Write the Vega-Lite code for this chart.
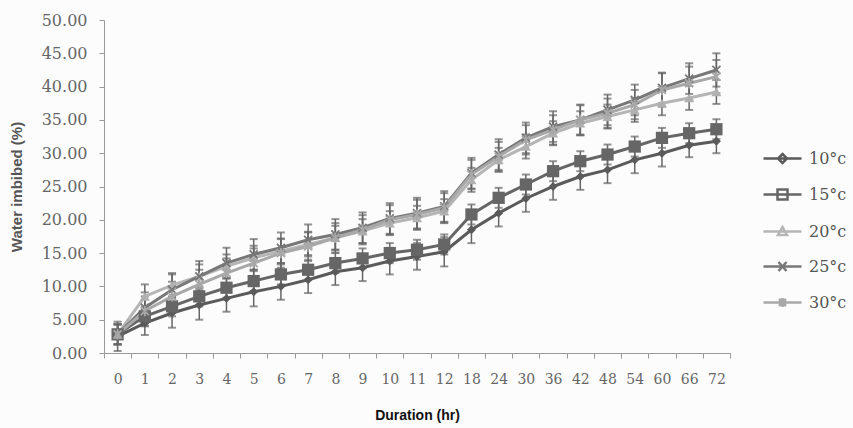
{
  "$schema": "https://vega.github.io/schema/vega-lite/v6.json",
  "width": 626,
  "height": 333,
  "autosize": "none",
  "padding": {"left": 104, "top": 20, "right": 123, "bottom": 75},
  "background": "#fcfcfc",
  "config": {"view": {"stroke": null}},
  "data": {"values": [
    {"s":"10°c","h":0,"v":2.5,"e":2.2},{"s":"10°c","h":1,"v":4.5,"e":1.8},{"s":"10°c","h":2,"v":6.0,"e":2.2},{"s":"10°c","h":3,"v":7.2,"e":2.2},{"s":"10°c","h":4,"v":8.2,"e":2.0},{"s":"10°c","h":5,"v":9.2,"e":2.2},{"s":"10°c","h":6,"v":10.0,"e":2.0},{"s":"10°c","h":7,"v":11.0,"e":2.0},{"s":"10°c","h":8,"v":12.2,"e":2.0},{"s":"10°c","h":9,"v":12.8,"e":2.0},{"s":"10°c","h":10,"v":13.8,"e":2.0},{"s":"10°c","h":11,"v":14.5,"e":2.0},{"s":"10°c","h":12,"v":15.2,"e":2.2},{"s":"10°c","h":18,"v":18.5,"e":2.0},{"s":"10°c","h":24,"v":21.0,"e":2.0},{"s":"10°c","h":30,"v":23.2,"e":2.0},{"s":"10°c","h":36,"v":25.0,"e":2.0},{"s":"10°c","h":42,"v":26.5,"e":2.0},{"s":"10°c","h":48,"v":27.5,"e":2.0},{"s":"10°c","h":54,"v":29.0,"e":2.0},{"s":"10°c","h":60,"v":30.0,"e":2.0},{"s":"10°c","h":66,"v":31.2,"e":1.8},{"s":"10°c","h":72,"v":31.8,"e":1.8},
    {"s":"15°c","h":0,"v":2.8,"e":1.5},{"s":"15°c","h":1,"v":5.5,"e":1.5},{"s":"15°c","h":2,"v":7.0,"e":1.5},{"s":"15°c","h":3,"v":8.5,"e":1.5},{"s":"15°c","h":4,"v":9.8,"e":1.5},{"s":"15°c","h":5,"v":10.8,"e":1.5},{"s":"15°c","h":6,"v":11.8,"e":1.5},{"s":"15°c","h":7,"v":12.5,"e":1.5},{"s":"15°c","h":8,"v":13.5,"e":1.5},{"s":"15°c","h":9,"v":14.2,"e":1.5},{"s":"15°c","h":10,"v":15.0,"e":1.5},{"s":"15°c","h":11,"v":15.5,"e":1.5},{"s":"15°c","h":12,"v":16.3,"e":1.5},{"s":"15°c","h":18,"v":20.8,"e":1.5},{"s":"15°c","h":24,"v":23.3,"e":1.5},{"s":"15°c","h":30,"v":25.3,"e":1.5},{"s":"15°c","h":36,"v":27.3,"e":1.5},{"s":"15°c","h":42,"v":28.8,"e":1.5},{"s":"15°c","h":48,"v":29.8,"e":1.5},{"s":"15°c","h":54,"v":31.0,"e":1.5},{"s":"15°c","h":60,"v":32.3,"e":1.5},{"s":"15°c","h":66,"v":33.0,"e":1.5},{"s":"15°c","h":72,"v":33.6,"e":1.5},
    {"s":"20°c","h":0,"v":2.8,"e":1.5},{"s":"20°c","h":1,"v":8.5,"e":1.8},{"s":"20°c","h":2,"v":10.2,"e":1.8},{"s":"20°c","h":3,"v":11.5,"e":1.8},{"s":"20°c","h":4,"v":13.0,"e":1.8},{"s":"20°c","h":5,"v":14.3,"e":1.8},{"s":"20°c","h":6,"v":15.3,"e":1.8},{"s":"20°c","h":7,"v":16.3,"e":1.8},{"s":"20°c","h":8,"v":17.3,"e":1.8},{"s":"20°c","h":9,"v":18.3,"e":1.8},{"s":"20°c","h":10,"v":19.5,"e":1.8},{"s":"20°c","h":11,"v":20.3,"e":1.8},{"s":"20°c","h":12,"v":21.3,"e":1.8},{"s":"20°c","h":18,"v":26.0,"e":1.8},{"s":"20°c","h":24,"v":29.0,"e":1.8},{"s":"20°c","h":30,"v":31.0,"e":1.8},{"s":"20°c","h":36,"v":33.0,"e":1.8},{"s":"20°c","h":42,"v":34.5,"e":1.8},{"s":"20°c","h":48,"v":35.5,"e":1.8},{"s":"20°c","h":54,"v":36.5,"e":1.8},{"s":"20°c","h":60,"v":37.5,"e":1.8},{"s":"20°c","h":66,"v":38.3,"e":1.8},{"s":"20°c","h":72,"v":39.2,"e":1.8},
    {"s":"25°c","h":0,"v":2.8,"e":1.5},{"s":"25°c","h":1,"v":6.8,"e":2.3},{"s":"25°c","h":2,"v":9.5,"e":2.3},{"s":"25°c","h":3,"v":11.5,"e":2.3},{"s":"25°c","h":4,"v":13.5,"e":2.3},{"s":"25°c","h":5,"v":14.8,"e":2.3},{"s":"25°c","h":6,"v":15.8,"e":2.3},{"s":"25°c","h":7,"v":17.0,"e":2.3},{"s":"25°c","h":8,"v":17.8,"e":2.3},{"s":"25°c","h":9,"v":18.8,"e":2.3},{"s":"25°c","h":10,"v":20.2,"e":2.3},{"s":"25°c","h":11,"v":21.0,"e":2.3},{"s":"25°c","h":12,"v":22.0,"e":2.3},{"s":"25°c","h":18,"v":27.0,"e":2.3},{"s":"25°c","h":24,"v":29.8,"e":2.3},{"s":"25°c","h":30,"v":32.3,"e":2.3},{"s":"25°c","h":36,"v":34.0,"e":2.3},{"s":"25°c","h":42,"v":35.0,"e":2.3},{"s":"25°c","h":48,"v":36.5,"e":2.3},{"s":"25°c","h":54,"v":38.0,"e":2.3},{"s":"25°c","h":60,"v":39.8,"e":2.3},{"s":"25°c","h":66,"v":41.2,"e":2.3},{"s":"25°c","h":72,"v":42.5,"e":2.5},
    {"s":"30°c","h":0,"v":2.8,"e":1.5},{"s":"30°c","h":1,"v":6.3,"e":2.2},{"s":"30°c","h":2,"v":8.5,"e":2.2},{"s":"30°c","h":3,"v":10.3,"e":2.2},{"s":"30°c","h":4,"v":12.0,"e":2.2},{"s":"30°c","h":5,"v":13.5,"e":2.2},{"s":"30°c","h":6,"v":15.0,"e":2.2},{"s":"30°c","h":7,"v":16.0,"e":2.2},{"s":"30°c","h":8,"v":17.3,"e":2.2},{"s":"30°c","h":9,"v":18.5,"e":2.2},{"s":"30°c","h":10,"v":20.0,"e":2.2},{"s":"30°c","h":11,"v":20.8,"e":2.2},{"s":"30°c","h":12,"v":21.8,"e":2.2},{"s":"30°c","h":18,"v":26.8,"e":2.2},{"s":"30°c","h":24,"v":29.5,"e":2.2},{"s":"30°c","h":30,"v":32.0,"e":2.2},{"s":"30°c","h":36,"v":33.5,"e":2.2},{"s":"30°c","h":42,"v":35.0,"e":2.2},{"s":"30°c","h":48,"v":36.0,"e":2.2},{"s":"30°c","h":54,"v":37.3,"e":2.2},{"s":"30°c","h":60,"v":39.5,"e":2.5},{"s":"30°c","h":66,"v":40.5,"e":2.5},{"s":"30°c","h":72,"v":41.5,"e":2.5}
  ]},
  "encoding": {
    "x": {
      "field": "h", "type": "ordinal",
      "scale": {"paddingInner": 0, "paddingOuter": 0},
      "axis": {
        "title": "Duration (hr)", "labelAngle": 0, "tickBand": "extent",
        "labelFont": "DejaVu Serif", "labelFontSize": 14, "labelColor": "#666",
        "domainColor": "#999", "tickColor": "#999", "tickSize": 5, "labelPadding": 14,
        "titleFont": "Liberation Sans", "titleFontSize": 14, "titleFontWeight": "bold", "titleColor": "#111", "titlePadding": 22
      }
    },
    "y": {
      "field": "v", "type": "quantitative",
      "scale": {"domain": [0, 50], "nice": false},
      "axis": {
        "title": "Water imbibed (%)", "values": [0,5,10,15,20,25,30,35,40,45,50], "format": ".2f", "grid": false,
        "labelFont": "DejaVu Serif", "labelFontSize": 16, "labelColor": "#666",
        "domainColor": "#999", "tickColor": "#999", "tickSize": 5, "labelPadding": 12,
        "titleFont": "Liberation Sans", "titleFontSize": 15, "titleFontWeight": "bold", "titleColor": "#555", "titlePadding": 17
      }
    }
  },
  "layer": [
    {
      "mark": {"type": "errorbar", "color": "#666666", "ticks": {"size": 8, "thickness": 2}, "thickness": 1.5},
      "encoding": {"yError": {"field": "e"}}
    },
    {
      "mark": {"type": "line", "strokeWidth": 3},
      "encoding": {
        "stroke": {
          "field": "s", "type": "nominal",
          "scale": {"domain": ["10°c","15°c","20°c","25°c","30°c"], "range": ["#5a5a5a","#666666","#b5b5b5","#777777","#a8a8a8"]}
        }
      }
    },
    {
      "mark": {"type": "point", "opacity": 0, "filled": false},
      "encoding": {
        "fill": {"field": "s", "type": "nominal", "scale": {"domain": ["10°c","15°c","20°c","25°c","30°c"], "range": ["#5a5a5a","#666666","#b5b5b5","#777777","#a8a8a8"]}},
        "stroke": {"field": "s", "type": "nominal"},
        "shape": {
          "field": "s", "type": "nominal",
          "scale": {"domain": ["10°c","15°c","20°c","25°c","30°c"], "range": [
            "M-1.9,0L1.9,0M0,-0.45L0.45,0L0,0.45L-0.45,0Z",
            "M-1.9,0L1.9,0M-0.5,-0.5L0.5,-0.5L0.5,0.5L-0.5,0.5Z",
            "M-1.9,0L1.9,0M0,-0.45L0.45,0.35L-0.45,0.35Z",
            "M-1.9,0L1.9,0M-0.4,-0.45L0.4,0.45M-0.4,0.45L0.4,-0.45",
            "M-1.9,0L1.9,0M-0.35,-0.35L0.35,0.35M-0.35,0.35L0.35,-0.35M0,-0.45L0,0.45"
          ]},
          "legend": {
            "title": null, "orient": "none", "legendX": 667, "legendY": 127, "padding": 0,
            "symbolSize": 400, "symbolStrokeWidth": 2.5, "symbolOpacity": 1, "labelOffset": 15, "rowPadding": 15,
            "labelFont": "DejaVu Serif", "labelFontSize": 16, "labelColor": "#555"
          }
        }
      }
    },
    {
      "transform": [{"filter": {"field": "s", "equal": "10°c"}}],
      "mark": {"type": "point", "shape": "diamond", "size": 80, "filled": true, "opacity": 1, "color": "#5a5a5a"}
    },
    {
      "transform": [{"filter": {"field": "s", "equal": "15°c"}}],
      "mark": {"type": "point", "shape": "square", "size": 150, "filled": true, "opacity": 1, "color": "#666666"}
    },
    {
      "transform": [{"filter": {"field": "s", "equal": "20°c"}}],
      "mark": {"type": "point", "shape": "triangle-up", "size": 100, "filled": true, "opacity": 1, "color": "#b0b0b0"}
    },
    {
      "transform": [{"filter": {"field": "s", "equal": "25°c"}}],
      "mark": {"type": "point", "shape": "M-1,-1L1,1M-1,1L1,-1", "size": 64, "filled": false, "opacity": 1, "strokeWidth": 1.8, "color": "#777777"}
    },
    {
      "transform": [{"filter": {"field": "s", "equal": "30°c"}}],
      "mark": {"type": "point", "shape": "M-1,-1L1,1M-1,1L1,-1M0,-1.3L0,1.3", "size": 64, "filled": false, "opacity": 1, "strokeWidth": 1.8, "color": "#a8a8a8"}
    }
  ]
}
